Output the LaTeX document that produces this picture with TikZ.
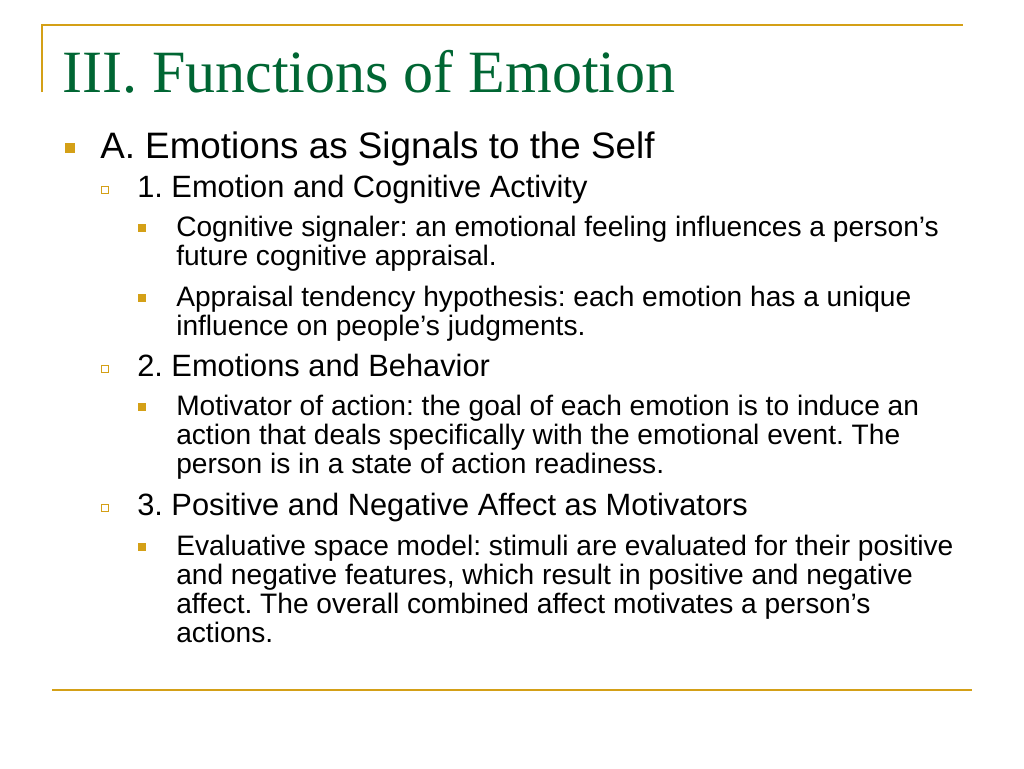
\documentclass[tikz,border=0pt]{standalone}
\usepackage{fontspec}
\setmainfont{Liberation Serif}
\newfontfamily\arialf{Liberation Sans}
\definecolor{gold}{RGB}{212,160,23}
\definecolor{ttl}{RGB}{0,102,51}
\begin{document}
\frenchspacing
\begin{tikzpicture}[x=0.75pt,y=-0.75pt,
  txt/.style={anchor=base west,inner sep=0pt,font=\arialf},
  la/.style={txt,font=\arialf\fontsize{27.6}{32}\selectfont},
  lb/.style={txt,font=\arialf\fontsize{23.1}{27}\selectfont},
  lc/.style={txt,font=\arialf\fontsize{21.1}{25}\selectfont},
  ba/.style={fill=gold,draw=none,minimum size=8pt,inner sep=0pt},
  bb/.style={draw=gold,fill=white,line width=0.7pt,minimum size=5.5pt,inner sep=0pt},
  bc/.style={fill=gold,draw=none,minimum size=6pt,inner sep=0pt}]
\useasboundingbox (0,0) rectangle (1024,768);
\fill[white] (0,0) rectangle (1024,768);
\draw[gold,line width=1.5pt] (42,92) -- (42,25) -- (963,25);
\draw[gold,line width=1.5pt] (52,690) -- (972,690);
\node[txt,font=\frenchspacing\fontsize{45}{52}\selectfont,text=ttl] (title) at (62,92) {III. Functions of Emotion};
\node[ba] (b1) at (70,148) {};
\node[la] (t1) at (100,158) {A. Emotions as Signals to the Self};
\node[bb] (b2) at (105,190) {};
\node[lb] (t2) at (137,197) {1. Emotion and Cognitive Activity};
\node[bc] (b3) at (142,228) {};
\node[lc] (t3) at (176,236) {Cognitive signaler: an emotional feeling influences a person’s};
\node[lc] (t3b) at (176,265) {future cognitive appraisal.};
\node[bc] (b4) at (142,298) {};
\node[lc] (t4) at (176,306) {Appraisal tendency hypothesis: each emotion has a unique};
\node[lc] (t4b) at (176,335) {influence on people’s judgments.};
\node[bb] (b5) at (105,369) {};
\node[lb] (t5) at (137,376) {2. Emotions and Behavior};
\node[bc] (b6) at (142,407) {};
\node[lc] (t6) at (176,415) {Motivator of action: the goal of each emotion is to induce an};
\node[lc] (t6b) at (176,444) {action that deals specifically with the emotional event. The};
\node[lc] (t6c) at (176,473) {person is in a state of action readiness.};
\node[bb] (b7) at (105,508) {};
\node[lb] (t7) at (137,515) {3. Positive and Negative Affect as Motivators};
\node[bc] (b8) at (142,547) {};
\node[lc] (t8) at (176,555) {Evaluative space model: stimuli are evaluated for their positive};
\node[lc] (t8b) at (176,584) {and negative features, which result in positive and negative};
\node[lc] (t8c) at (176,613) {affect. The overall combined affect motivates a person’s};
\node[lc] (t8d) at (176,642) {actions.};
\end{tikzpicture}
\end{document}
